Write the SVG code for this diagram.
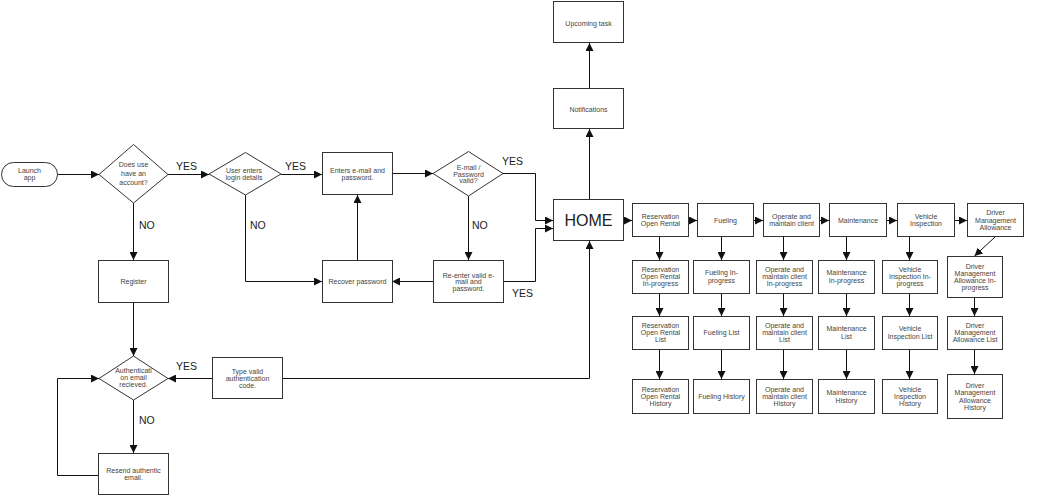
<svg xmlns="http://www.w3.org/2000/svg" width="1053" height="496" viewBox="0 0 1053 496">
<defs>
<marker id="ah" markerUnits="userSpaceOnUse" markerWidth="8" markerHeight="8" refX="8" refY="4" orient="auto">
<path d="M0,0 L8,4 L0,8 z" fill="#111"/>
</marker>
<style>
.n rect,.n polygon{fill:#fff;stroke:#333;stroke-width:1}
.t{font-family:"Liberation Sans",Arial,sans-serif;font-size:7px;fill:#444;text-anchor:middle}
.lb{font-family:"Liberation Sans",Arial,sans-serif;font-size:10.5px;fill:#222}
.home{font-family:"Liberation Sans",Arial,sans-serif;font-size:16px;fill:#222;text-anchor:middle}
#edges path{fill:none;stroke:#111;stroke-width:1;marker-end:url(#ah)}
</style>
</defs>
<rect width="1053" height="496" fill="#fff"/>

<g id="edges">
<path d="M57,174.5 H99"/>
<path d="M168,174.5 H209"/>
<path d="M281,174.5 H322"/>
<path d="M392,173.5 H433"/>
<path d="M503,173.5 H535.5 V220.5 H553"/>
<path d="M468.5,196 V260"/>
<path d="M503,281.5 H535.5 V228.5 H553"/>
<path d="M433,281.5 H392"/>
<path d="M357.5,260 V195"/>
<path d="M245.5,195 V281.5 H322"/>
<path d="M133.5,203 V260"/>
<path d="M133.5,303 V356"/>
<path d="M212,378.5 H168"/>
<path d="M283,378.5 H589.5 V241"/>
<path d="M133.5,400 V453"/>
<path d="M98,475.5 H57.5 V378.5 H99"/>
<path d="M589.5,199 V129"/>
<path d="M589.5,88 V43"/>
<path d="M624,220.5 H632"/>
<path d="M688,220.5 H697"/>
<path d="M753,220.5 H763"/>
<path d="M819,220.5 H829"/>
<path d="M886,220.5 H897"/>
<path d="M954,220.5 H967"/>
<path d="M659.5,237 V260"/>
<path d="M659.5,293 V316"/>
<path d="M659.5,349 V379"/>
<path d="M721.5,237 V260"/>
<path d="M721.5,293 V316"/>
<path d="M721.5,349 V379"/>
<path d="M783.5,237 V260"/>
<path d="M783.5,293 V316"/>
<path d="M783.5,349 V379"/>
<path d="M846.5,237 V260"/>
<path d="M846.5,293 V316"/>
<path d="M846.5,349 V379"/>
<path d="M909.5,237 V260"/>
<path d="M909.5,293 V316"/>
<path d="M909.5,349 V379"/>
<path d="M995,237 L974.5,256"/>
<path d="M974.5,298 V316"/>
<path d="M974.5,349 V374"/>
</g>

<g id="labels">
<text class="lb" x="176" y="170">YES</text>
<text class="lb" x="285" y="170">YES</text>
<text class="lb" x="139" y="229">NO</text>
<text class="lb" x="250" y="229">NO</text>
<text class="lb" x="502" y="164.5">YES</text>
<text class="lb" x="472" y="229">NO</text>
<text class="lb" x="512" y="297">YES</text>
<text class="lb" x="176" y="370">YES</text>
<text class="lb" x="139" y="424">NO</text>
</g>

<g id="launch" class="n"><rect x="1.5" y="162.5" width="56" height="24" rx="12"/><text class="t"><tspan x="29.5" y="173.2">Launch</tspan><tspan x="29.5" y="180.2">app</tspan></text></g>
<g id="hasAccount" class="n"><polygon points="99,174.5 133.5,144.5 168,174.5 133.5,203"/><text class="t"><tspan x="133.5" y="166.8">Does use</tspan><tspan x="133.5" y="175.8">have an</tspan><tspan x="133.5" y="184.8">account?</tspan></text></g>
<g id="userEnters" class="n"><polygon points="209,174 245.5,152.5 281,174 245.5,195"/><text class="t"><tspan x="244" y="173.2">User enters</tspan><tspan x="244" y="179.8">login details</tspan></text></g>
<g id="entersEmail" class="n"><rect x="322.5" y="152.5" width="70" height="42"/><text class="t"><tspan x="357.5" y="173.2">Enters e-mail and</tspan><tspan x="357.5" y="180.2">password.</tspan></text></g>
<g id="valid" class="n"><polygon points="433,173.5 468.5,151.5 503,173.5 468.5,196"/><text class="t"><tspan x="468.5" y="169.8">E-mail /</tspan><tspan x="468.5" y="176.8">Password</tspan><tspan x="468.5" y="183.2">valid?</tspan></text></g>
<g id="reenter" class="n"><rect x="433.5" y="260.5" width="70" height="42"/><text class="t"><tspan x="468.5" y="277.5">Re-enter valid e-</tspan><tspan x="468.5" y="284.2">mail and</tspan><tspan x="468.5" y="290.8">password.</tspan></text></g>
<g id="recover" class="n"><rect x="322.5" y="260.5" width="70" height="42"/><text class="t" x="357.5" y="284.2">Recover password</text></g>
<g id="register" class="n"><rect x="98.5" y="260.5" width="70" height="42"/><text class="t" x="133.5" y="284.2">Register</text></g>
<g id="authReceived" class="n"><polygon points="99,378.5 133.5,356 168,378.5 133.5,400"/><text class="t"><tspan x="133.5" y="373.2">Authenticati</tspan><tspan x="133.5" y="380.2">on email</tspan><tspan x="133.5" y="386.8">recieved.</tspan></text></g>
<g id="typeCode" class="n"><rect x="212.5" y="357.5" width="70" height="41"/><text class="t"><tspan x="247.5" y="374.2">Type valid</tspan><tspan x="247.5" y="381.2">authentication</tspan><tspan x="247.5" y="388.2">code.</tspan></text></g>
<g id="resend" class="n"><rect x="98.5" y="453.5" width="70" height="41"/><text class="t"><tspan x="133.5" y="473.2">Resend authentic</tspan><tspan x="133.5" y="480.2">email.</tspan></text></g>
<g id="home" class="n"><rect x="553.5" y="199.5" width="70" height="41"/><text class="home" x="588.5" y="225.7">HOME</text></g>
<g id="notifications" class="n"><rect x="553.5" y="88.5" width="70" height="40"/><text class="t" x="588.5" y="111.8">Notifications</text></g>
<g id="upcoming" class="n"><rect x="553.5" y="1.5" width="70" height="41"/><text class="t" x="588.5" y="25.5">Upcoming task</text></g>

<g id="res1" class="n"><rect x="632.5" y="203.5" width="56" height="33"/><text class="t"><tspan x="660.5" y="218.9">Reservation</tspan><tspan x="660.5" y="226.1">Open Rental</tspan></text></g>
<g id="fuel1" class="n"><rect x="697.5" y="203.5" width="56" height="33"/><text class="t" x="725.5" y="222.5">Fueling</text></g>
<g id="op1" class="n"><rect x="763.5" y="203.5" width="56" height="33"/><text class="t"><tspan x="791.5" y="218.9">Operate and</tspan><tspan x="791.5" y="226.1">maintain client</tspan></text></g>
<g id="mnt1" class="n"><rect x="829.5" y="203.5" width="57" height="33"/><text class="t" x="858" y="222.5">Maintenance</text></g>
<g id="veh1" class="n"><rect x="897.5" y="203.5" width="57" height="33"/><text class="t"><tspan x="926" y="218.9">Vehicle</tspan><tspan x="926" y="226.1">Inspection</tspan></text></g>
<g id="drv1" class="n"><rect x="967.5" y="203.5" width="56" height="33"/><text class="t"><tspan x="995.5" y="215.3">Driver</tspan><tspan x="995.5" y="222.5">Management</tspan><tspan x="995.5" y="229.7">Allowance</tspan></text></g>

<g id="res2" class="n"><rect x="632.5" y="260.5" width="56" height="33"/><text class="t"><tspan x="660.5" y="271.8">Reservation</tspan><tspan x="660.5" y="279">Open Rental</tspan><tspan x="660.5" y="286.2">In-progress</tspan></text></g>
<g id="fuel2" class="n"><rect x="693.5" y="260.5" width="56" height="33"/><text class="t"><tspan x="721.5" y="275.4">Fueling In-</tspan><tspan x="721.5" y="282.6">progress</tspan></text></g>
<g id="op2" class="n"><rect x="756.5" y="260.5" width="56" height="33"/><text class="t"><tspan x="784.5" y="271.8">Operate and</tspan><tspan x="784.5" y="279">maintain client</tspan><tspan x="784.5" y="286.2">In-progress</tspan></text></g>
<g id="mnt2" class="n"><rect x="818.5" y="260.5" width="56" height="33"/><text class="t"><tspan x="846.5" y="275.4">Maintenance</tspan><tspan x="846.5" y="282.6">In-progress</tspan></text></g>
<g id="veh2" class="n"><rect x="882.5" y="260.5" width="55" height="33"/><text class="t"><tspan x="910" y="271.8">Vehicle</tspan><tspan x="910" y="279">Inspection In-</tspan><tspan x="910" y="286.2">progress</tspan></text></g>
<g id="drv2" class="n"><rect x="947.5" y="256.5" width="55" height="41"/><text class="t"><tspan x="975" y="268.7">Driver</tspan><tspan x="975" y="275.9">Management</tspan><tspan x="975" y="283.1">Allowance In-</tspan><tspan x="975" y="290.3">progress</tspan></text></g>

<g id="res3" class="n"><rect x="632.5" y="316.5" width="56" height="33"/><text class="t"><tspan x="660.5" y="327.8">Reservation</tspan><tspan x="660.5" y="335">Open Rental</tspan><tspan x="660.5" y="342.2">List</tspan></text></g>
<g id="fuel3" class="n"><rect x="693.5" y="316.5" width="56" height="33"/><text class="t" x="721.5" y="335">Fueling List</text></g>
<g id="op3" class="n"><rect x="756.5" y="316.5" width="56" height="33"/><text class="t"><tspan x="784.5" y="327.8">Operate and</tspan><tspan x="784.5" y="335">maintain client</tspan><tspan x="784.5" y="342.2">List</tspan></text></g>
<g id="mnt3" class="n"><rect x="818.5" y="316.5" width="56" height="33"/><text class="t"><tspan x="846.5" y="331.4">Maintenance</tspan><tspan x="846.5" y="338.6">List</tspan></text></g>
<g id="veh3" class="n"><rect x="882.5" y="316.5" width="55" height="33"/><text class="t"><tspan x="910" y="331.4">Vehicle</tspan><tspan x="910" y="338.6">Inspection List</tspan></text></g>
<g id="drv3" class="n"><rect x="947.5" y="316.5" width="55" height="33"/><text class="t"><tspan x="975" y="327.8">Driver</tspan><tspan x="975" y="335">Management</tspan><tspan x="975" y="342.2">Allowance List</tspan></text></g>

<g id="res4" class="n"><rect x="632.5" y="379.5" width="56" height="34"/><text class="t"><tspan x="660.5" y="391.8">Reservation</tspan><tspan x="660.5" y="399">Open Rental</tspan><tspan x="660.5" y="406.2">History</tspan></text></g>
<g id="fuel4" class="n"><rect x="693.5" y="379.5" width="56" height="34"/><text class="t" x="721.5" y="399">Fueling History</text></g>
<g id="op4" class="n"><rect x="756.5" y="379.5" width="56" height="34"/><text class="t"><tspan x="784.5" y="391.8">Operate and</tspan><tspan x="784.5" y="399">maintain client</tspan><tspan x="784.5" y="406.2">History</tspan></text></g>
<g id="mnt4" class="n"><rect x="818.5" y="379.5" width="56" height="34"/><text class="t"><tspan x="846.5" y="395.4">Maintenance</tspan><tspan x="846.5" y="402.6">History</tspan></text></g>
<g id="veh4" class="n"><rect x="882.5" y="379.5" width="55" height="34"/><text class="t"><tspan x="910" y="391.8">Vehicle</tspan><tspan x="910" y="399">Inspection</tspan><tspan x="910" y="406.2">History</tspan></text></g>
<g id="drv4" class="n"><rect x="947.5" y="374.5" width="55" height="44"/><text class="t"><tspan x="975" y="388.2">Driver</tspan><tspan x="975" y="395.4">Management</tspan><tspan x="975" y="402.6">Allowance</tspan><tspan x="975" y="409.8">History</tspan></text></g>
</svg>
